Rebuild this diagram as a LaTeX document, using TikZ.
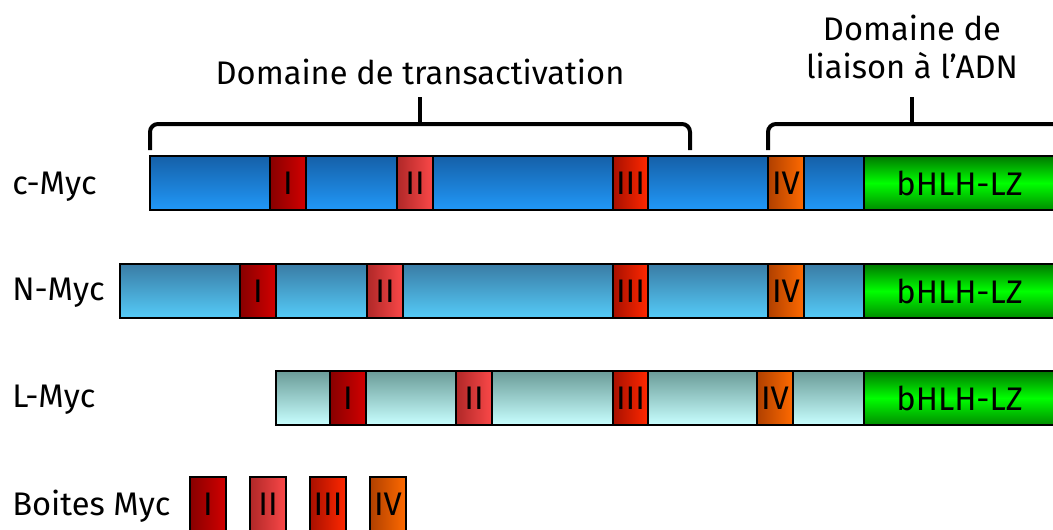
\documentclass[tikz,border=0pt]{standalone}
\usepackage{fontspec}
\setmainfont{Fira Sans}
\usetikzlibrary{positioning}
\definecolor{cTop}{HTML}{1560A8}
\definecolor{cBot}{HTML}{2198F8}
\definecolor{nTop}{HTML}{3A7CA5}
\definecolor{nBot}{HTML}{55CBF8}
\definecolor{lTop}{HTML}{6B9C98}
\definecolor{lBot}{HTML}{C8FFFF}
\definecolor{oneL}{HTML}{880000}
\definecolor{oneR}{HTML}{D20000}
\definecolor{twoL}{HTML}{B02828}
\definecolor{twoR}{HTML}{FA4848}
\definecolor{thrL}{HTML}{A81000}
\definecolor{thrR}{HTML}{FF2800}
\definecolor{fouL}{HTML}{B04000}
\definecolor{fouR}{HTML}{FF6A00}
\definecolor{gTop}{HTML}{007800}
\definecolor{gMid}{HTML}{00FF00}
\definecolor{gBot}{HTML}{008C00}
\tikzset{
  seg/.style={draw=black, line width=1.1pt, inner sep=0pt, outer sep=0pt, anchor=center,
     font=\fontsize{24.5}{27}\selectfont},
  cbar/.style={top color=cTop, bottom color=cBot},
  nbar/.style={top color=nTop, bottom color=nBot},
  lbar/.style={top color=lTop, bottom color=lBot},
  boxone/.style={left color=oneL, right color=oneR},
  boxtwo/.style={left color=twoL, right color=twoR},
  boxthr/.style={left color=thrL, right color=thrR},
  boxfou/.style={left color=fouL, right color=fouR},
  gbox/.style={top color=gTop, bottom color=gBot, middle color=gMid},
  lab/.style={anchor=west, inner sep=0pt, font=\fontsize{24.5}{27}\selectfont},
  ttl/.style={align=center, inner sep=0pt, font=\fontsize{24.5}{28.5}\selectfont},
  brace/.style={line width=3pt, rounded corners=6pt, line cap=butt}
}
% #1 name, #2 x1, #3 x2, #4 y1, #5 y2, #6 style, #7 text
\newcommand\segbox[7]{%
  \node[seg,#6,minimum width={(#3-#2)*0.75pt}, minimum height={(#5-#4)*0.75pt}]
     (#1) at ({(#2+#3)/2},{(#4+#5)/2}) {#7};}
\begin{document}
\begin{tikzpicture}[x=0.75pt,y=-0.75pt]
\useasboundingbox (0,0) rectangle (1053,529);
% titles
\node[ttl] (tta) at (420,72) {Domaine de transactivation};
\node[ttl] (ttb) at (912,47) {Domaine de\\liaison à l’ADN};
% braces
\coordinate (ba1) at (150,150); \coordinate (ba2) at (690,150);
\coordinate (bb1) at (768,150); \coordinate (bb2) at (1060,124);
\coordinate (ta) at (420,124); \coordinate (tb) at (912,124);
\draw[brace] (ba1) -- (150,124) -- (690,124) -- (ba2);
\draw[brace] (ta) -- (420,97);
\draw[brace] (bb1) -- (768,124) -- (bb2);
\draw[brace] (tb) -- (912,97);
% c-Myc
\node[lab] (lc) at (12,187) {c-Myc};
\segbox{cbarn}{150}{1070}{156}{210}{cbar}{}
\segbox{c1}{270}{306}{156}{210}{boxone}{I}
\segbox{c2}{397}{433}{156}{210}{boxtwo}{II}
\segbox{c3}{613}{648}{156}{210}{boxthr}{III}
\segbox{c4}{768}{804}{156}{210}{boxfou}{IV}
\segbox{cg}{864}{1070}{156}{210}{gbox}{\hspace*{-11pt}bHLH-LZ}
% N-Myc
\node[lab] (ln) at (12,293) {N-Myc};
\segbox{nbarn}{120}{1070}{264}{318}{nbar}{}
\segbox{n1}{240}{276}{264}{318}{boxone}{I}
\segbox{n2}{367}{403}{264}{318}{boxtwo}{II}
\segbox{n3}{613}{648}{264}{318}{boxthr}{III}
\segbox{n4}{768}{804}{264}{318}{boxfou}{IV}
\segbox{ng}{864}{1070}{264}{318}{gbox}{\hspace*{-11pt}bHLH-LZ}
% L-Myc
\node[lab] (ll) at (12,400) {L-Myc};
\segbox{lbarn}{276}{1070}{371}{425}{lbar}{}
\segbox{l1}{330}{366}{371}{425}{boxone}{I}
\segbox{l2}{456}{492}{371}{425}{boxtwo}{II}
\segbox{l3}{613}{648}{371}{425}{boxthr}{III}
\segbox{l4}{757}{793}{371}{425}{boxfou}{IV}
\segbox{lg}{864}{1070}{371}{425}{gbox}{\hspace*{-11pt}bHLH-LZ}
% legend
\node[lab] (lb) at (12,506) {Boites Myc};
\segbox{k1}{190}{226}{477}{532}{boxone}{I}
\segbox{k2}{250}{286}{477}{532}{boxtwo}{II}
\segbox{k3}{310}{346}{477}{532}{boxthr}{III}
\segbox{k4}{370}{406}{477}{532}{boxfou}{IV}
\end{tikzpicture}
\end{document}
